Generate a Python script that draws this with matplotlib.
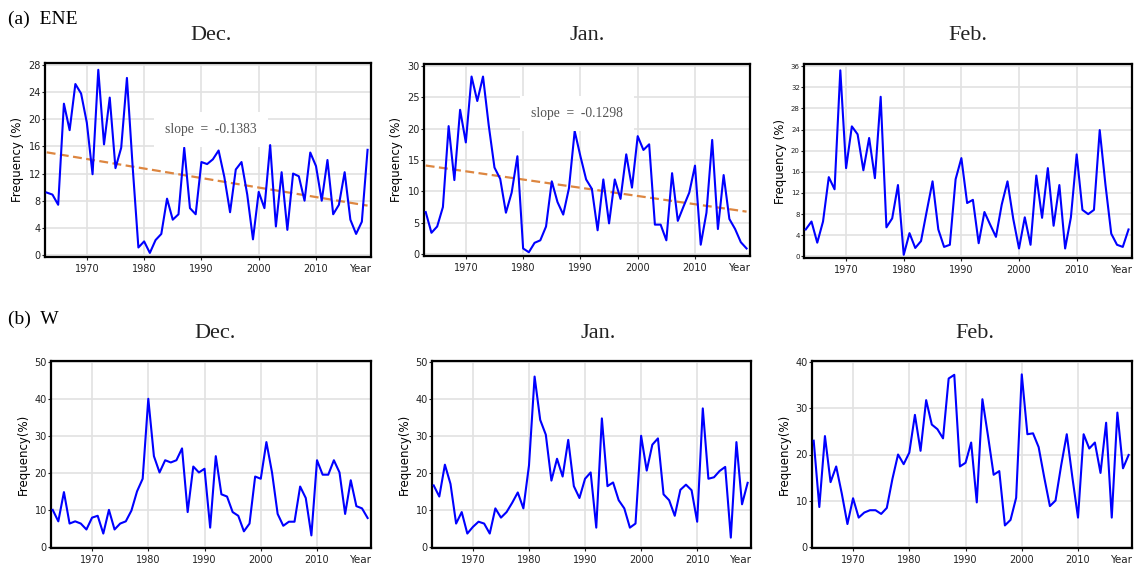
import numpy as np
import matplotlib.pyplot as plt

years = np.arange(1963, 2020)

# (a) ENE
ene_dec = [9.2, 8.9, 7.4, 22.3, 18.4, 25.2, 23.8, 19.5, 11.9, 27.3,
           16.3, 23.2, 12.8, 15.8, 26.1, 13.0, 1.1, 2.0, 0.3, 2.2,
           3.1, 8.3, 5.2, 6.0, 15.8, 6.9, 6.0, 13.7, 13.4, 14.1,
           15.4, 11.5, 6.3, 12.6, 13.7, 8.9, 2.3, 9.3, 6.9, 16.2,
           4.2, 12.2, 3.7, 12.0, 11.6, 8.0, 15.1, 13.1, 8.0, 14.0,
           6.0, 7.4, 12.2, 5.2, 3.1, 4.9, 15.5]
ene_jan = [6.7, 3.4, 4.4, 7.5, 20.4, 11.8, 23.0, 17.8, 28.3, 24.4,
           28.3, 20.5, 13.8, 12.0, 6.6, 9.8, 15.6, 0.9, 0.3, 1.8,
           2.2, 4.4, 11.6, 8.3, 6.3, 10.5, 19.6, 15.6, 11.9, 10.4,
           3.8, 11.9, 4.9, 11.9, 8.8, 15.9, 10.6, 18.8, 16.6, 17.5,
           4.7, 4.7, 2.2, 12.9, 5.3, 7.6, 9.8, 14.1, 1.5, 6.6,
           18.2, 4.0, 12.6, 5.6, 4.0, 1.9, 0.9]
ene_feb = [5.1, 6.6, 2.6, 6.6, 15.0, 12.7, 35.2, 16.7, 24.6, 23.1,
           16.3, 22.4, 14.8, 30.2, 5.5, 7.2, 13.5, 0.3, 4.4, 1.6,
           2.9, 8.6, 14.2, 5.1, 1.8, 2.2, 14.6, 18.6, 10.1, 10.7,
           2.5, 8.4, 6.0, 3.7, 9.8, 14.2, 7.1, 1.5, 7.4, 2.2,
           15.3, 7.3, 16.7, 5.8, 13.5, 1.5, 7.4, 19.3, 8.8, 8.0,
           8.8, 23.9, 13.5, 4.3, 2.2, 1.8, 5.1]

# (b) W
w_dec = [10.0, 6.9, 14.8, 6.3, 6.9, 6.3, 4.7, 7.9, 8.4, 3.6,
         10.0, 4.7, 6.3, 6.9, 9.8, 15.0, 18.4, 40.0, 24.5, 20.1,
         23.4, 22.8, 23.4, 26.6, 9.4, 21.7, 20.1, 21.1, 5.2, 24.5,
         14.2, 13.6, 9.4, 8.4, 4.2, 6.3, 19.0, 18.4, 28.3, 20.1,
         8.9, 5.7, 6.8, 6.8, 16.3, 13.2, 3.1, 23.4, 19.5, 19.5,
         23.4, 20.1, 8.9, 18.0, 11.0, 10.4, 7.8]
w_jan = [16.6, 13.6, 22.2, 17.0, 6.3, 9.4, 3.6, 5.4, 6.8, 6.3,
         3.6, 10.4, 7.9, 9.4, 11.9, 14.7, 10.4, 22.0, 46.0, 34.3,
         30.3, 17.9, 23.8, 19.0, 28.9, 16.4, 13.2, 18.4, 20.1, 5.2,
         34.7, 16.4, 17.4, 12.6, 10.4, 5.2, 6.3, 30.0, 20.6, 27.6,
         29.3, 14.2, 12.6, 8.4, 15.4, 16.8, 15.3, 6.8, 37.4, 18.4,
         18.8, 20.5, 21.6, 2.5, 28.3, 11.5, 17.3]
w_feb = [23.0, 8.6, 24.0, 14.0, 17.4, 11.5, 4.9, 10.5, 6.3, 7.4,
         7.9, 7.9, 7.1, 8.4, 14.7, 20.0, 17.9, 20.4, 28.6, 20.8,
         31.8, 26.5, 25.5, 23.5, 36.5, 37.3, 17.4, 18.2, 22.6, 9.6,
         32.0, 24.0, 15.6, 16.4, 4.6, 5.8, 10.6, 37.4, 24.4, 24.6,
         21.6, 15.0, 8.8, 10.0, 17.6, 24.4, 15.0, 6.3, 24.4, 21.3,
         22.6, 16.0, 26.9, 6.3, 29.1, 17.0, 19.9]

months = ['Dec.', 'Jan.', 'Feb.']
slopes = ['-0.1383', '-0.1298', None]

W, H = 1135, 574
fig = plt.figure(figsize=(W / 100, H / 100), dpi=100)
SERIF = 'Liberation Serif'


def px_axes(l, t, r, b):
    return fig.add_axes([l / W, 1 - b / H, (r - l) / W, (b - t) / H])


def style(ax, ylim, ystep, ylab, ysize=7):
    ax.set_xlim(1962.7, 2019.6)
    ax.set_ylim(*ylim)
    ax.set_xticks([1970, 1980, 1990, 2000, 2010])
    ax.set_yticks(np.arange(0, ylim[1] + 0.5, ystep))
    ax.grid(True, color='#e2e2e2', lw=1.2)
    ax.set_axisbelow(True)
    for s in ax.spines.values():
        s.set_linewidth(1.6)
        s.set_color('black')
    ax.tick_params(axis='x', labelsize=7, length=2, pad=3, colors='#222')
    ax.tick_params(axis='y', labelsize=ysize, length=2, pad=1, colors='#222')
    ax.set_ylabel(ylab, fontsize=8.5, labelpad=3)
    ax.text(1.0, -0.035, 'Year', transform=ax.transAxes, ha='right', va='top',
            fontsize=7.5, color='#222')


top_boxes = [(45, 63, 371, 257), (424, 64, 750, 256), (804, 64, 1132, 258)]
top_data = [ene_dec, ene_jan, ene_feb]
top_lims = [(-0.3, 28.3), (-0.3, 30.3), (-0.3, 36.4)]
top_steps = [4, 5, 4]
top_ysize = [7, 7, 5]
slope_pos = [(1983.7, 18.5), (1981.4, 22.4)]
top_title_x = [211, 587, 968]
bot_title_x = [215, 598, 975]

for i in range(3):
    ax = px_axes(*top_boxes[i])
    y = np.array(top_data[i])
    ax.plot(years, y, color='#0000ff', lw=1.5, zorder=3)
    if slopes[i] is not None:
        k, c = np.polyfit(years, y, 1)
        ax.plot(years, k * years + c, color='#dd8640', lw=1.6, ls=(0, (4, 2)), zorder=2)
        ax.text(slope_pos[i][0], slope_pos[i][1], 'slope  =  ' + slopes[i],
                fontsize=9.8, family=SERIF, color='#555', va='center', zorder=4,
                bbox=dict(facecolor='white', edgecolor='none', pad=8))
    style(ax, top_lims[i], top_steps[i], 'Frequency (%)', top_ysize[i])
    fig.text(top_title_x[i] / W, 1 - 36 / H, months[i], fontsize=16, family=SERIF,
             ha='center', va='center', color='#222')

bot_boxes = [(51, 361, 371, 548), (432, 361, 751, 548), (812, 361, 1132, 548)]
bot_data = [w_dec, w_jan, w_feb]
bot_lims = [(-0.3, 50.2), (-0.3, 50.2), (-0.3, 40.3)]

for i in range(3):
    ax = px_axes(*bot_boxes[i])
    ax.plot(years, bot_data[i], color='#0000ff', lw=1.5, zorder=3)
    style(ax, bot_lims[i], 10, 'Frequency(%)')
    fig.text(bot_title_x[i] / W, 1 - 334 / H, months[i], fontsize=16, family=SERIF,
             ha='center', va='center', color='#222')

fig.text(8 / W, 1 - 19 / H, '(a)  ENE', fontsize=14, family=SERIF, va='center')
fig.text(8 / W, 1 - 319 / H, '(b)  W', fontsize=14, family=SERIF, va='center')

fig.savefig('out.png', dpi=100)
